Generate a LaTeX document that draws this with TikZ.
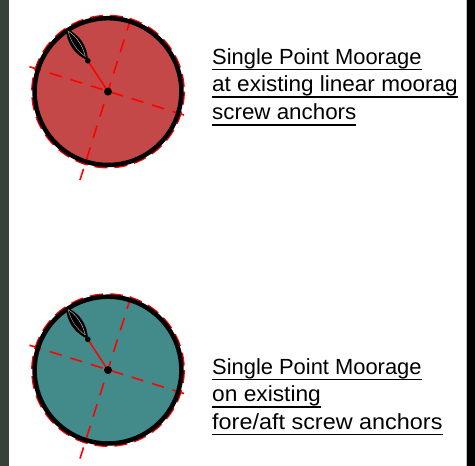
\documentclass[tikz,border=0pt]{standalone}
\usepackage{fontspec}
\setmainfont{Liberation Sans}
\newsavebox{\ulinebox}
\newcommand{\ulined}[1]{\sbox{\ulinebox}{#1}\rlap{\rule[-6.2pt]{\wd\ulinebox}{1.6pt}}\usebox{\ulinebox}}
\definecolor{redfill}{HTML}{C54848}
\definecolor{tealfill}{HTML}{438B8B}
\definecolor{stripl}{HTML}{36413A}
\definecolor{boatline}{HTML}{C9BFA8}
\tikzset{
  x=1pt,y=-1pt,
  axisa/.style={red,line width=1.6pt,dash pattern=on 13pt off 9.6pt},
  axisb/.style={red,line width=1.6pt,dash pattern=on 12.3pt off 9.1pt},
  rim/.style={red,line width=1.7pt,dash pattern=on 13pt off 7pt},
  label/.style={anchor=base west,inner sep=0pt,transform shape,font=\fontsize{21.9pt}{26pt}\selectfont},
  pics/mooring/.style={code={
    \fill[#1] (108,91.6) circle[radius=75];
    \draw[axisa] (131,18) -- (80,180);
    \draw[axisb] (29.5,66.7) -- (184,115);
    \draw[rim] (108,91.6) circle[radius=76];
    \draw[black,line width=4.5pt] (108,91.6) circle[radius=73.4];
    \coordinate (hub) at (108,91.6);
    \coordinate (stern) at (87.8,60.8);
    \draw[red,line width=1.5pt] (stern) -- (hub);
    \fill[black] (hub) circle[radius=4];
    \fill[black] (stern) circle[radius=2.8];
    \fill[black] (65.8,28.3) .. controls (79.8,34.6) and (87.2,45.6) .. (88,60.5)
                 .. controls (74.2,54.4) and (66.8,43.4) .. cycle;
    \draw[boatline,line width=0.45pt] (68,31) .. controls (77,36.5) and (83,46.5) .. (85.3,56.5);
    \draw[white!65!black,line width=0.45pt] (68,31) .. controls (70.5,41) and (76.5,50.5) .. (85.3,56.5);
  }}
}
\begin{document}
\begin{tikzpicture}
\useasboundingbox (0,0) rectangle (475,466);
\fill[white] (0,0) rectangle (475,466);
\fill[stripl] (0,0) rectangle (9,466);
\fill[gray!50] (466,0) rectangle (467,466);
\fill[black] (467,0) rectangle (475,466);
\pic (top) {mooring=redfill};
\begin{scope}[shift={(0,278.5)}]
\pic (low) {mooring=tealfill};
\end{scope}
\node[label] (a1) at (212,64) {\ulined{Single Point Moorage}};
\node[label,xscale=1.029] (a2) at (212,91.7) {\ulined{at existing linear moorag}};
\node[label,xscale=1.021] (a3) at (212,119.3) {\ulined{screw anchors}};
\node[label] (b1) at (212,374) {\ulined{Single Point Moorage}};
\node[label,xscale=1.038] (b2) at (212,401.7) {\ulined{on existing}};
\node[label,xscale=1.069] (b3) at (212,429) {\ulined{fore/aft screw anchors}};
\end{tikzpicture}
\end{document}
